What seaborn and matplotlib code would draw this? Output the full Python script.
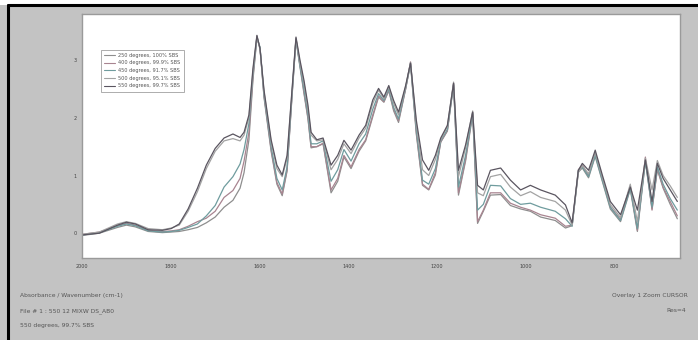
import numpy as np
import pandas as pd
import matplotlib
matplotlib.use("Agg")
import matplotlib.pyplot as plt
import seaborn as sns
from matplotlib.lines import Line2D
from matplotlib.patches import Rectangle

wavenumber = [2000, 1961, 1920, 1900, 1880, 1851, 1819, 1799, 1781, 1761, 1740, 1720, 1700, 1680,
              1660, 1644, 1635, 1624, 1615, 1606, 1599, 1590, 1574, 1561, 1549, 1538, 1527, 1518,
              1509, 1500, 1491, 1484, 1471, 1457, 1439, 1424, 1410, 1394, 1376, 1361, 1345, 1332,
              1320, 1309, 1298, 1287, 1271, 1260, 1247, 1233, 1219, 1204, 1192, 1177, 1163, 1152,
              1136, 1120, 1109, 1096, 1080, 1057, 1035, 1012, 990, 967, 934, 911, 896, 882, 873,
              859, 844, 828, 810, 787, 765, 749, 731, 716, 704, 691, 675, 659]

abs_550 = [-0.03, 0.00, 0.14, 0.19, 0.16, 0.06, 0.05, 0.08, 0.16, 0.42, 0.78, 1.18, 1.47, 1.65,
           1.72, 1.66, 1.75, 2.05, 2.85, 3.43, 3.20, 2.48, 1.62, 1.18, 1.01, 1.35, 2.48, 3.40,
           3.00, 2.65, 2.22, 1.75, 1.62, 1.65, 1.18, 1.35, 1.61, 1.44, 1.70, 1.87, 2.31, 2.51,
           2.36, 2.56, 2.30, 2.10, 2.56, 2.95, 1.96, 1.27, 1.09, 1.35, 1.65, 1.87, 2.60, 1.09,
           1.53, 2.10, 0.83, 0.75, 1.09, 1.13, 0.92, 0.75, 0.83, 0.75, 0.66, 0.49, 0.18, 1.09, 1.21,
           1.09, 1.44, 1.01, 0.55, 0.32, 0.80, 0.40, 1.27, 0.55, 1.21, 0.95, 0.75, 0.55]
abs_500 = [-0.02, 0.02, 0.16, 0.20, 0.17, 0.08, 0.06, 0.09, 0.14, 0.38, 0.72, 1.12, 1.42, 1.60,
           1.64, 1.60, 1.70, 2.00, 2.80, 3.42, 3.18, 2.45, 1.58, 1.12, 0.98, 1.30, 2.45, 3.38,
           2.95, 2.60, 2.15, 1.70, 1.60, 1.62, 1.10, 1.28, 1.55, 1.38, 1.65, 1.82, 2.25, 2.48,
           2.33, 2.54, 2.25, 2.05, 2.54, 2.96, 1.90, 1.10, 1.00, 1.28, 1.62, 1.85, 2.62, 0.98,
           1.48, 2.12, 0.70, 0.65, 0.98, 1.02, 0.80, 0.65, 0.72, 0.62, 0.55, 0.40, 0.14, 1.05, 1.17,
           1.03, 1.40, 0.97, 0.50, 0.27, 0.85, 0.20, 1.30, 0.75, 1.26, 1.00, 0.82, 0.62]
abs_450 = [-0.03, 0.01, 0.12, 0.16, 0.13, 0.04, 0.02, 0.03, 0.05, 0.10, 0.16, 0.30, 0.48, 0.80,
           0.98, 1.20, 1.45, 1.90, 2.75, 3.40, 3.22, 2.40, 1.50, 0.95, 0.75, 1.15, 2.40, 3.36,
           2.90, 2.50, 2.05, 1.55, 1.55, 1.60, 0.90, 1.10, 1.45, 1.25, 1.55, 1.72, 2.15, 2.42,
           2.30, 2.50, 2.18, 1.98, 2.52, 2.94, 1.80, 0.92, 0.85, 1.12, 1.60, 1.80, 2.58, 0.80,
           1.35, 2.08, 0.40, 0.50, 0.83, 0.82, 0.60, 0.50, 0.52, 0.45, 0.38, 0.25, 0.12, 1.08, 1.15,
           0.98, 1.35, 0.92, 0.45, 0.22, 0.78, 0.08, 1.25, 0.45, 1.15, 0.85, 0.60, 0.40]
abs_400 = [-0.02, 0.02, 0.13, 0.17, 0.14, 0.05, 0.03, 0.04, 0.06, 0.12, 0.20, 0.26, 0.38, 0.62,
           0.74, 0.95, 1.25, 1.75, 2.70, 3.41, 3.20, 2.38, 1.45, 0.88, 0.68, 1.10, 2.38, 3.37,
           2.92, 2.45, 2.00, 1.50, 1.50, 1.56, 0.75, 0.95, 1.35, 1.15, 1.45, 1.62, 2.05, 2.38,
           2.28, 2.48, 2.15, 1.95, 2.50, 2.97, 1.75, 0.85, 0.76, 1.05, 1.58, 1.78, 2.60, 0.70,
           1.28, 2.10, 0.20, 0.40, 0.70, 0.70, 0.52, 0.45, 0.40, 0.32, 0.26, 0.12, 0.14, 1.10, 1.18,
           1.00, 1.38, 0.95, 0.46, 0.24, 0.82, 0.05, 1.32, 0.40, 1.12, 0.80, 0.55, 0.30]
abs_250 = [-0.04, 0.00, 0.10, 0.14, 0.11, 0.03, 0.01, 0.02, 0.03, 0.06, 0.10, 0.18, 0.28, 0.45,
           0.57, 0.78, 1.05, 1.62, 2.65, 3.38, 3.22, 2.35, 1.42, 0.85, 0.65, 1.08, 2.36, 3.35,
           2.88, 2.42, 1.98, 1.48, 1.50, 1.55, 0.70, 0.90, 1.32, 1.12, 1.42, 1.60, 2.02, 2.36,
           2.27, 2.47, 2.12, 1.92, 2.50, 2.93, 1.72, 0.83, 0.75, 1.01, 1.58, 1.77, 2.57, 0.66,
           1.25, 2.06, 0.17, 0.38, 0.66, 0.67, 0.48, 0.42, 0.38, 0.28, 0.22, 0.09, 0.13, 1.06, 1.13,
           0.96, 1.33, 0.90, 0.42, 0.20, 0.76, 0.03, 1.24, 0.42, 1.10, 0.78, 0.50, 0.25]

series_names = ["250 degrees, 100% SBS", "400 degrees, 99.9% SBS", "450 degrees, 91.7% SBS",
                "500 degrees, 95.1% SBS", "550 degrees, 99.7% SBS"]
series_values = [abs_250, abs_400, abs_450, abs_500, abs_550]
colors = ["#8e8e8e", "#a88490", "#6f9c9e", "#a3a3a3", "#5a5560"]

x_ticks = [2000, 1800, 1600, 1400, 1200, 1000, 800]
y_ticks = [0, 1, 2, 3]

rows = []
for name, vals in zip(series_names, series_values):
    for w, a in zip(wavenumber, vals):
        rows.append({"wavenumber": w, "absorbance": a, "series": name})
df = pd.DataFrame(rows)

sns.set_style("white")
plt.rcParams["font.family"] = ["DejaVu Sans"]

W, H = 698, 340
fig = plt.figure(figsize=(W / 100, H / 100), dpi=100, facecolor="#c3c3c3")

# window chrome
fig.add_artist(Rectangle((0, 1 - 5 / H), 1, 5 / H, transform=fig.transFigure,
                         facecolor="white", edgecolor="none", zorder=0))
fig.add_artist(Line2D([8 / W, 8 / W], [0, 1 - 5 / H], transform=fig.transFigure,
                      color="black", lw=2.2))
fig.add_artist(Line2D([8 / W, 1], [1 - 5 / H, 1 - 5 / H], transform=fig.transFigure,
                      color="black", lw=2.2))

ax = fig.add_axes([82 / W, 1 - 258 / H, (680 - 82) / W, (258 - 14) / H])
ax.set_facecolor("white")
sns.lineplot(data=df, x="wavenumber", y="absorbance", hue="series", hue_order=series_names,
             palette=colors, linewidth=0.9, ax=ax, legend=False)

ax.set_xlim(2000, 653)
ax.set_ylim(-0.43, 3.80)
ax.set_xticks(x_ticks)
ax.set_xticklabels([str(t) for t in x_ticks], fontsize=3.5, color="#444444")
ax.set_yticks(y_ticks)
ax.set_yticklabels([str(t) for t in y_ticks], fontsize=3.5, color="#444444")
ax.tick_params(axis="both", length=2, width=0.5, color="#666666", pad=2)
ax.set_xlabel("")
ax.set_ylabel("")
for s in ax.spines.values():
    s.set_color("#9a9a9a")
    s.set_linewidth(1.0)

handles = [Line2D([0], [0], color=c, lw=0.8) for c in colors]
leg = ax.legend(handles, series_names, loc="upper left", bbox_to_anchor=(16 / 598, 1 - 33 / 244),
                fontsize=3.6, frameon=True, fancybox=False, handlelength=2.2,
                labelspacing=0.55, borderpad=0.6, handletextpad=0.8)
leg.get_frame().set_edgecolor("#888888")
leg.get_frame().set_linewidth(0.6)
for t in leg.get_texts():
    t.set_color("#555555")

txt_kw = dict(fontsize=4.3, color="#555555", va="center")
fig.text(20 / W, 1 - 296 / H, "Absorbance / Wavenumber (cm-1)", ha="left", **txt_kw)
fig.text(20 / W, 1 - 311 / H, "File # 1 : 550 12 MIXW DS_AB0", ha="left", **txt_kw)
fig.text(20 / W, 1 - 326 / H, "550 degrees, 99.7% SBS", ha="left", **txt_kw)
fig.text(688 / W, 1 - 296 / H, "Overlay 1 Zoom CURSOR", ha="right", **txt_kw)
fig.text(686 / W, 1 - 311 / H, "Res=4", ha="right", **txt_kw)

fig.savefig("out.png", dpi=100, facecolor=fig.get_facecolor())
